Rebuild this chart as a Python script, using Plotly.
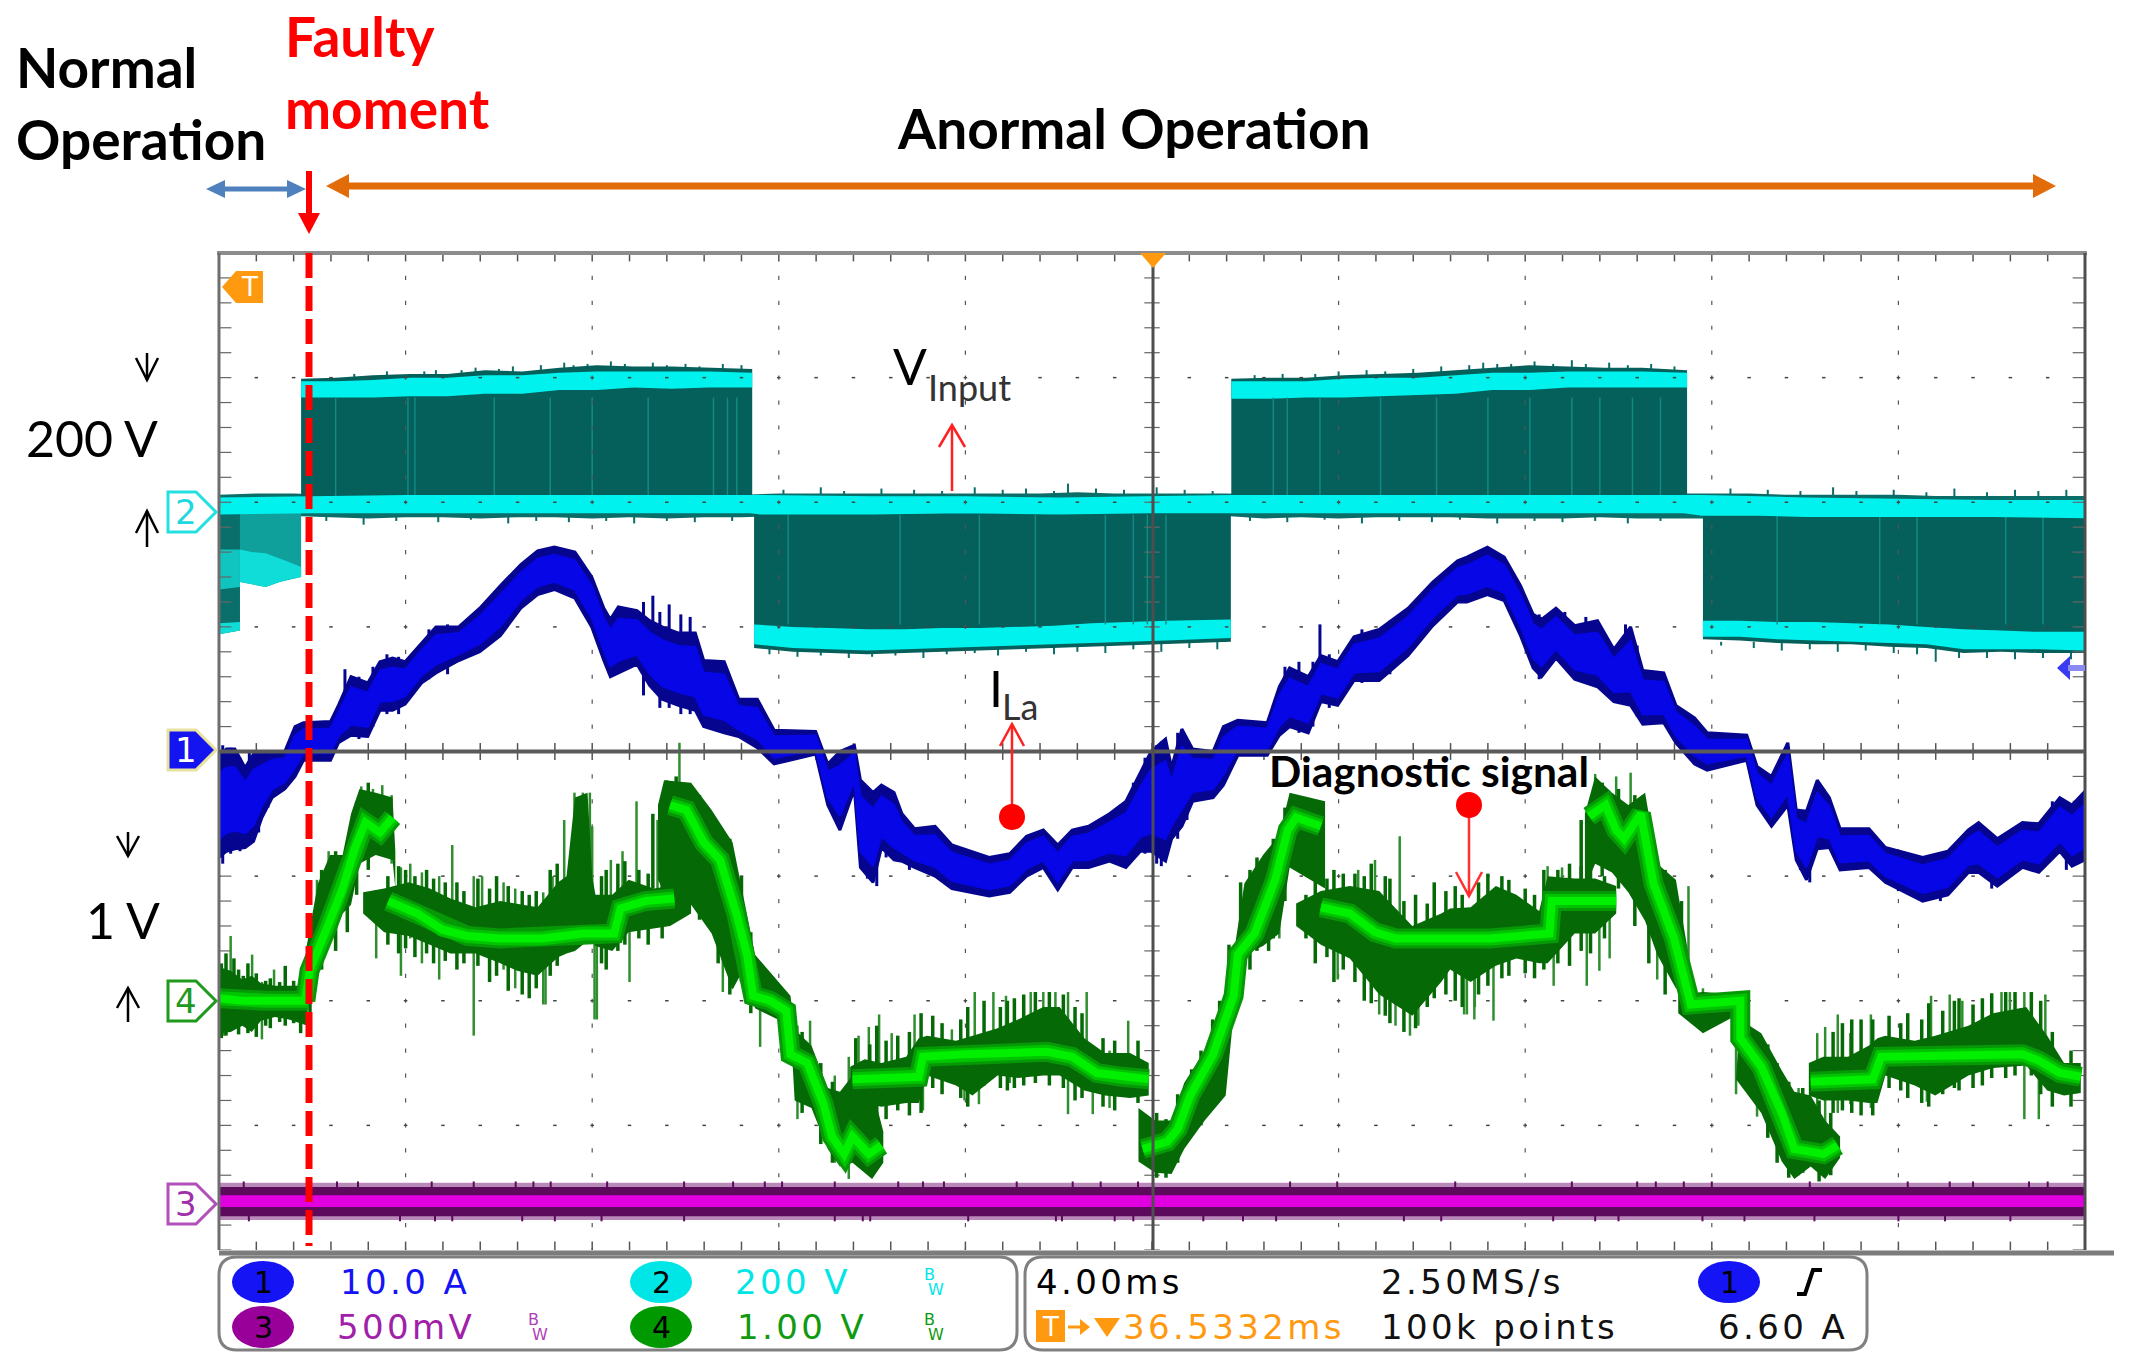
import plotly.graph_objects as go

W, H = 2138, 1371
FL, FR, FT, FB = 219, 2085, 253, 1250

# ---------- channel 1 (inductor current), time in ms, value in divisions ----------
I_t = [0.00,0.16,0.34,0.56,0.74,0.92,1.14,1.41,1.63,1.81,2.39,2.56,2.83,3.19,3.45,3.72,3.99,4.34,4.65,5.14,5.59,6.03,6.47,6.83,7.19,7.63,7.99,8.25,8.39,8.56,8.96,9.23,9.50,9.85,10.21,10.39,10.83,11.14,11.54,11.90,12.79,13.05,13.31,13.62,13.75,14.02,14.20,14.47,14.64,14.91,15.35,15.71,16.51,16.95,17.31,17.67,17.98,18.29,18.64,19.09,19.44,19.75,19.98,20.29,20.42,20.64,20.87,21.31,21.53,21.84,22.47,22.73,22.95,23.35,23.62,23.98,24.33,24.87,25.49,26.02,26.55,26.75,27.19,27.55,27.90,28.17,28.35,28.66,29.06,29.55,29.90,30.26,30.52,30.97,31.23,31.63,31.90,32.75,32.97,33.28,33.63,33.81,34.03,34.26,34.52,34.75,35.37,35.72,36.52,37.06,37.50,37.72,38.12,38.66,39.01,39.46,39.72,40.00]
I_hi = [-0.03,0.02,0.02,-0.13,-0.02,-0.02,0.00,0.00,0.20,0.23,0.24,0.37,0.60,0.55,0.72,0.75,0.72,0.87,1.00,1.00,1.15,1.33,1.50,1.61,1.64,1.60,1.40,1.15,1.06,1.16,1.13,1.05,1.00,0.95,0.95,0.73,0.72,0.42,0.42,0.17,0.16,-0.10,0.00,0.05,-0.23,-0.33,-0.27,-0.33,-0.50,-0.62,-0.60,-0.75,-0.85,-0.82,-0.68,-0.63,-0.75,-0.63,-0.60,-0.50,-0.40,-0.17,0.00,0.10,-0.13,0.18,0.02,0.00,0.20,0.25,0.23,0.52,0.67,0.60,0.77,0.72,0.92,0.98,1.15,1.36,1.53,1.56,1.64,1.56,1.33,1.10,1.06,1.15,1.01,1.05,0.82,1.00,0.65,0.63,0.37,0.27,0.15,0.13,-0.12,-0.20,0.07,-0.47,-0.48,-0.23,-0.37,-0.62,-0.62,-0.77,-0.85,-0.80,-0.63,-0.57,-0.70,-0.57,-0.58,-0.37,-0.43,-0.32]
I_lo = [-0.85,-0.80,-0.78,-0.77,-0.72,-0.53,-0.37,-0.30,-0.20,-0.07,-0.07,0.07,0.13,0.12,0.33,0.33,0.38,0.55,0.63,0.73,0.80,0.93,1.15,1.26,1.30,1.23,1.00,0.73,0.60,0.63,0.70,0.53,0.42,0.37,0.33,0.20,0.15,0.12,0.03,-0.10,-0.02,-0.43,-0.63,-0.30,-0.93,-1.05,-0.77,-0.87,-0.88,-0.93,-1.00,-1.10,-1.16,-1.13,-1.00,-0.93,-1.11,-0.93,-0.93,-0.88,-0.93,-0.80,-0.80,-0.88,-0.70,-0.60,-0.40,-0.37,-0.27,-0.03,-0.03,0.13,0.20,0.15,0.40,0.37,0.57,0.57,0.77,1.01,1.20,1.20,1.26,1.21,0.93,0.67,0.60,0.75,0.58,0.52,0.40,0.37,0.22,0.23,0.07,-0.10,-0.15,-0.07,-0.43,-0.60,-0.43,-0.87,-1.03,-0.78,-0.77,-0.95,-0.93,-1.05,-1.20,-1.15,-0.97,-0.97,-1.08,-0.93,-0.97,-0.80,-0.92,-0.87]
# channel 1 peak-to-peak excursions poking out of the band
IX_t = [0.08,0.25,0.45,0.65,0.85,1.05,2.7,3.0,3.3,3.6,3.85,4.5,4.9,9.1,9.3,9.45,9.65,9.9,10.1,13.9,14.1,14.3,14.8,19.6,19.85,20.1,20.2,20.55,20.75,22.85,23.15,23.45,23.6,23.8,24.5,25.1,28.3,28.85,29.3,29.75,30.15,30.4,33.9,34.1,34.4,36.0,36.9,38.0,39.3,39.6]
IX_hi = [0.05,0.03,-0.05,0.00,-0.02,0.01,0.66,0.60,0.68,0.78,0.76,0.98,1.02,1.20,1.25,1.12,1.18,1.10,1.08,-0.28,-0.30,-0.30,-0.58,-0.25,-0.05,0.05,0.08,0.15,0.05,0.68,0.72,0.72,1.02,0.78,0.98,1.05,1.10,1.12,1.08,0.85,1.02,0.85,-0.60,-0.55,-0.30,-0.80,-0.83,-0.68,-0.40,-0.42]
IX_lo = [-0.90,-0.82,-0.80,-0.75,-0.65,-0.45,0.10,0.10,0.20,0.30,0.30,0.58,0.62,0.45,0.50,0.35,0.35,0.30,0.30,-1.02,-1.08,-0.85,-0.95,-0.85,-0.82,-0.90,-0.92,-0.70,-0.55,0.20,0.15,0.20,0.38,0.35,0.55,0.62,0.58,0.68,0.55,0.45,0.38,0.28,-0.95,-1.05,-0.78,-1.12,-1.20,-1.10,-0.82,-0.95]

# ---------- channel 4 (diagnostic signal) bright trace, None marks a break ----------
D_t = [0,0.5,1.0,1.9,None,1.85,1.94,2.30,2.65,2.92,3.14,3.45,3.72,None,3.63,4.25,4.79,5.32,6.03,6.92,7.81,8.47,8.61,9.14,9.76,None,9.67,10.02,10.39,10.74,11.09,11.32,11.45,11.81,12.16,12.25,12.61,12.96,13.14,13.40,13.58,13.93,14.20,None,13.58,15.00,15.09,15.98,17.75,18.29,18.82,19.35,19.93,None,19.80,20.33,20.55,20.82,21.31,21.62,21.75,21.84,22.20,22.64,22.91,23.09,23.62,None,23.62,24.24,24.78,25.22,27.25,28.52,28.57,29.95,None,29.37,29.72,29.95,30.12,30.48,30.75,31.19,31.41,31.55,32.61,32.61,33.06,33.50,33.77,34.39,34.70,None,34.12,35.45,35.63,38.66,39.01,39.46,39.91]
D_v = [-1.98,-2.00,-2.00,-2.00,None,-2.00,-1.76,-1.43,-1.10,-0.77,-0.57,-0.65,-0.53,None,-1.20,-1.30,-1.43,-1.48,-1.50,-1.50,-1.46,-1.46,-1.26,-1.20,-1.18,None,-0.43,-0.47,-0.73,-0.87,-1.30,-1.63,-1.96,-2.00,-2.08,-2.43,-2.50,-2.83,-3.09,-3.23,-3.09,-3.23,-3.16,None,-2.63,-2.61,-2.45,-2.43,-2.41,-2.45,-2.58,-2.61,-2.63,None,-3.19,-3.13,-3.03,-2.76,-2.43,-2.13,-1.96,-1.63,-1.46,-1.03,-0.63,-0.53,-0.60,None,-1.25,-1.30,-1.45,-1.50,-1.50,-1.46,-1.20,-1.20,None,-0.52,-0.43,-0.63,-0.70,-0.50,-1.06,-1.50,-1.80,-2.03,-2.00,-2.30,-2.53,-2.90,-3.19,-3.23,-3.16,None,-2.65,-2.63,-2.45,-2.43,-2.48,-2.58,-2.61]

# channel 4 dense envelopes, one per stretch of the waveform
E1_t=[0,0.25,0.5,0.7,0.9,1.2,1.5,1.9]
E1_hi=[-1.73,-1.76,-1.83,-1.80,-1.86,-1.88,-1.88,-1.88]
E1_lo=[-2.26,-2.25,-2.20,-2.25,-2.16,-2.13,-2.15,-2.20]
E2_t=[1.87,2.12,2.38,2.65,2.83,3.01,3.36,3.72,3.78]
E2_hi=[-1.58,-1.06,-0.83,-0.83,-0.50,-0.30,-0.33,-0.37,-0.80]
E2_lo=[-2.06,-1.73,-1.53,-1.30,-1.23,-0.90,-0.83,-0.87,-1.10]
E3_t=[3.09,3.54,4.07,4.52,4.96,5.50,6.03,6.39,6.83,7.27,7.45,7.63,7.90,8.00,8.07,8.43,8.78,9.32,9.67,10.12]
E3_hi=[-1.13,-1.10,-1.05,-1.10,-1.18,-1.25,-1.20,-1.22,-1.25,-1.05,-1.00,-0.37,-0.33,-1.00,-1.15,-1.15,-1.03,-1.10,-1.08,-1.16]
E3_lo=[-1.30,-1.45,-1.48,-1.55,-1.62,-1.62,-1.70,-1.76,-1.80,-1.65,-1.62,-1.60,-1.52,-1.52,-1.56,-1.60,-1.45,-1.42,-1.40,-1.30]
E4_t=[9.41,9.54,10.12,10.56,11.01,11.27,11.49,12.25,12.34,12.70,13.05,13.31,13.58,14.00,14.24]
E4_hi=[-0.43,-0.23,-0.25,-0.47,-0.73,-1.23,-1.63,-1.96,-2.23,-2.36,-2.70,-2.73,-2.60,-2.70,-3.05]
E4_lo=[-1.03,-1.13,-1.23,-1.46,-1.91,-1.73,-2.06,-2.20,-2.80,-2.86,-3.19,-3.33,-3.30,-3.43,-3.30]
E5_t=[13.53,13.84,14.20,14.73,15.00,15.18,15.80,16.15,16.69,17.13,17.67,18.02,18.55,18.99,19.53,19.93]
E5_hi=[-2.53,-2.47,-2.50,-2.45,-2.30,-2.28,-2.32,-2.28,-2.22,-2.15,-2.05,-2.05,-2.30,-2.42,-2.42,-2.50]
E5_lo=[-2.76,-2.82,-2.85,-2.82,-2.82,-2.60,-2.68,-2.76,-2.60,-2.62,-2.60,-2.60,-2.72,-2.76,-2.78,-2.76]
E6_t=[19.71,20.07,20.42,20.69,21.13,21.58,21.75,21.98,22.38,22.73,22.95,23.71]
E6_hi=[-2.86,-2.96,-2.96,-2.66,-2.40,-1.96,-1.63,-1.06,-0.83,-0.67,-0.33,-0.40]
E6_lo=[-3.29,-3.38,-3.39,-3.19,-2.96,-2.76,-2.10,-1.63,-1.56,-1.46,-0.93,-1.10]
E7_t=[23.09,23.62,24.24,24.87,25.58,26.20,26.39,26.83,27.37,27.81,28.30,28.48,29.06,29.50,29.95]
E7_hi=[-1.22,-1.12,-1.08,-1.12,-1.40,-1.30,-1.26,-1.25,-1.08,-1.15,-1.28,-1.00,-1.02,-1.02,-1.08]
E7_lo=[-1.40,-1.55,-1.66,-1.95,-2.12,-1.85,-1.75,-1.85,-1.72,-1.66,-1.70,-1.70,-1.46,-1.46,-1.30]
E8_t=[29.28,29.50,29.86,30.21,30.57,30.83,31.23,31.50]
E8_hi=[-0.50,-0.20,-0.33,-0.43,-0.33,-0.90,-1.03,-1.63]
E8_lo=[-1.10,-0.90,-0.97,-1.13,-1.36,-1.63,-1.90,-1.96]
E9_t=[31.28,31.81,32.61,32.52,33.06,33.50,33.77,34.12,34.43,34.75]
E9_hi=[-1.95,-1.93,-1.95,-2.13,-2.26,-2.56,-2.73,-2.76,-2.96,-3.09]
E9_lo=[-2.10,-2.26,-2.10,-2.63,-2.90,-3.29,-3.43,-3.33,-3.43,-3.26]
E10_t=[34.08,34.39,34.92,35.37,35.55,35.72,36.35,36.79,37.50,38.03,38.74,39.19,39.55,39.91]
E10_hi=[-2.50,-2.45,-2.45,-2.36,-2.30,-2.28,-2.32,-2.28,-2.20,-2.10,-2.05,-2.28,-2.50,-2.50]
E10_lo=[-2.76,-2.80,-2.80,-2.82,-2.82,-2.60,-2.68,-2.76,-2.60,-2.54,-2.52,-2.72,-2.76,-2.74]

# channel 4 isolated glitches: time, top, bottom
S_t=[0.25,0.71,1.18,0.92,0.10,2.35,2.10,3.05,3.30,3.50,3.70,3.37,3.90,4.10,4.35,4.72,5.00,5.46,5.64,6.10,6.35,6.95,7.00,7.40,7.62,7.80,7.95,8.00,7.15,8.05,8.10,8.40,8.65,8.95,9.40,8.80,9.87,9.60,10.50,10.80,11.00,11.60,12.40,12.67,13.20,13.50,13.71,13.93,14.15,14.42,13.75,14.91,15.09,15.71,16.20,16.60,16.87,15.98,16.29,16.95,17.40,17.67,17.93,18.20,18.60,18.73,19.49,19.09,22.73,23.98,24.87,25.22,25.53,25.71,26.69,26.91,25.31,24.78,24.42,26.75,26.92,27.32,28.61,29.32,29.59,29.81,28.48,28.79,29.50,29.95,30.26,30.83,31.50,31.81,32.52,32.97,33.86,34.26,34.43,34.70,34.97,35.41,36.70,37.10,37.37,38.21,38.39,38.70,39.15,39.01,36.61]
S_hi=[-1.48,-1.63,-1.75,-1.85,-1.85,-0.80,-1.03,-0.28,-0.30,-0.27,-0.35,-1.30,-0.93,-0.90,-0.97,-1.00,-0.75,-1.00,-1.00,-1.05,-1.10,-1.13,-1.20,-0.55,-0.33,-0.33,-0.33,-0.60,-1.00,-1.30,-1.30,-0.87,-0.80,-0.40,-0.55,-1.40,0.07,-0.23,-0.47,-0.73,-0.80,-2.00,-2.20,-2.16,-2.60,-2.45,-2.28,-2.21,-2.11,-2.26,-2.60,-2.11,-2.60,-2.23,-1.93,-1.93,-1.96,-2.40,-2.40,-2.40,-1.93,-1.93,-1.93,-1.93,-1.93,-2.40,-2.16,-2.40,-0.90,-1.30,-1.40,-1.40,-1.40,-1.40,-1.40,-1.40,-0.68,-0.87,-0.95,-1.40,-1.40,-1.40,-1.40,-1.10,-1.10,-1.10,-0.92,-0.93,-0.18,-0.20,-0.17,-1.00,-1.08,-1.90,-2.20,-2.30,-2.70,-2.26,-2.21,-2.11,-2.26,-2.11,-1.96,-1.95,-2.00,-1.93,-1.93,-1.93,-1.95,-2.30,-2.40]
S_lo=[-2.00,-2.00,-2.00,-2.31,-2.28,-1.30,-1.50,-0.60,-0.60,-0.60,-0.90,-1.66,-1.80,-1.50,-1.70,-1.83,-1.30,-2.28,-1.60,-1.75,-1.90,-2.03,-2.03,-1.50,-1.50,-1.50,-1.50,-1.50,-1.50,-2.15,-2.15,-1.40,-1.40,-1.40,-1.30,-1.85,-0.40,-1.20,-1.40,-1.93,-1.90,-2.37,-2.95,-2.60,-3.30,-3.43,-2.60,-2.60,-2.60,-2.60,-2.90,-2.60,-2.88,-2.60,-2.40,-2.40,-2.40,-2.80,-2.83,-2.66,-2.40,-2.40,-2.40,-2.91,-2.40,-2.91,-2.60,-2.86,-1.50,-1.83,-2.11,-2.20,-2.28,-2.20,-2.11,-2.15,-1.50,-1.50,-1.50,-2.11,-2.05,-2.16,-1.88,-1.88,-1.76,-1.66,-1.40,-1.50,-0.70,-0.90,-0.90,-1.83,-1.90,-2.00,-2.75,-2.93,-3.40,-3.00,-3.00,-2.90,-2.83,-2.86,-2.50,-2.50,-2.55,-2.50,-2.50,-2.95,-2.50,-2.95,-2.81]

# channel 4 dense ripple that gives the envelope its comb edge
R_t=[0.05,0.15,0.32,0.42,0.52,0.62,0.8,1.0,1.1,1.3,1.42,1.6,1.75,
     3.62,3.85,4.0,4.2,4.45,4.6,4.85,5.1,5.25,5.55,5.8,5.95,6.2,6.5,6.65,6.8,7.1,7.25,8.2,8.3,8.55,8.7,9.0,9.2,9.5,
     13.65,13.95,14.1,14.3,14.55,14.8,15.05,15.3,15.5,15.9,16.05,16.4,16.75,16.9,17.05,17.25,17.5,17.8,18.1,18.35,18.5,18.95,19.2,19.7,
     20.1,20.3,20.55,20.85,21.05,21.3,21.45,21.65,21.9,22.1,22.25,22.5,22.6,22.85,
     23.3,23.5,23.75,23.9,24.1,24.35,24.55,24.7,25.0,25.1,25.4,25.65,25.9,26.05,26.3,26.5,26.65,27.0,27.2,27.5,27.65,28.0,28.2,28.4,28.7,28.95,29.2,29.4,29.7,
     34.6,34.8,35.0,35.2,35.45,35.8,36.05,36.2,36.5,36.65,36.95,37.2,37.3,37.6,37.8,38.0,38.3,38.5,38.85,39.05,39.3,39.7,
     1.95,2.2,2.5,2.75,2.95,3.2,9.3,9.8,10.3,10.7,10.95,11.2,11.4,29.2,29.65,30.0,30.35,30.65,31.0,31.35,12.5,12.9,13.15,33.2,33.4,33.65,33.95,34.3,34.55]
R_hi=[-1.7,-1.62,-1.66,-1.75,-1.8,-1.7,-1.78,-1.84,-1.82,-1.85,-1.72,-1.84,-1.82,
      -1.0,-0.92,-0.95,-1.0,-0.95,-1.02,-1.05,-1.05,-1.12,-1.02,-1.1,-1.0,-1.08,-1.12,-1.15,-1.12,-0.95,-0.9,-1.0,-0.95,-0.9,-0.88,-0.95,-0.98,-0.92,
      -2.3,-2.35,-2.2,-2.32,-2.28,-2.25,-2.1,-2.12,-2.18,-2.15,-2.05,-2.0,-2.05,-2.0,-1.98,-1.95,-1.93,-1.93,-1.95,-2.05,-2.1,-2.3,-2.32,-2.32,
      -2.9,-2.95,-2.75,-2.55,-2.4,-2.15,-2.0,-1.55,-1.05,-0.95,-0.85,-0.8,-0.7,-0.45,
      -1.15,-1.0,-1.02,-0.95,-0.98,-0.98,-1.0,-0.9,-1.0,-1.02,-1.2,-1.15,-1.22,-1.05,-1.12,-1.08,-1.15,-1.05,-0.98,-1.0,-1.03,-1.1,-1.15,-0.95,-0.95,-0.9,-0.92,-0.95,-1.0,
      -2.25,-2.18,-2.15,-2.15,-2.15,-2.12,-2.18,-2.1,-2.15,-2.02,-2.08,-2.0,-1.98,-2.03,-1.98,-1.94,-1.93,-1.93,-1.93,-2.0,-2.25,-2.4,
      -1.5,-0.95,-0.8,-0.75,-0.4,-0.25,-0.5,-0.2,-0.35,-0.6,-0.7,-1.0,-1.45,-0.55,-0.25,-0.3,-0.35,-0.5,-0.95,-1.2,-2.25,-2.5,-2.65,-2.35,-2.5,-2.65,-2.7,-2.8,-2.9]
R_lo=[-2.3,-2.28,-2.22,-2.27,-2.2,-2.26,-2.29,-2.2,-2.22,-2.17,-2.2,-2.18,-2.26,
      -1.55,-1.62,-1.58,-1.65,-1.62,-1.7,-1.68,-1.75,-1.7,-1.72,-1.85,-1.8,-1.92,-1.95,-1.98,-1.9,-1.8,-1.72,-1.7,-1.75,-1.6,-1.55,-1.5,-1.55,-1.5,
      -2.85,-2.9,-2.92,-2.95,-2.88,-2.92,-2.9,-2.7,-2.75,-2.78,-2.85,-2.68,-2.7,-2.72,-2.7,-2.68,-2.66,-2.68,-2.7,-2.8,-2.78,-2.85,-2.88,-2.82,
      -3.42,-3.42,-3.3,-3.05,-3.0,-2.85,-2.8,-2.15,-1.7,-1.75,-1.6,-1.6,-1.5,-1.2,
      -1.5,-1.7,-1.65,-1.85,-1.75,-1.85,-2.0,-2.02,-2.12,-2.18,-2.25,-2.22,-2.05,-1.98,-1.95,-2.0,-2.05,-1.95,-1.88,-1.82,-1.8,-1.78,-1.82,-1.75,-1.7,-1.72,-1.6,-1.62,-1.5,
      -2.9,-2.88,-2.9,-2.92,-2.92,-2.7,-2.72,-2.78,-2.82,-2.85,-2.75,-2.7,-2.72,-2.7,-2.68,-2.62,-2.62,-2.6,-2.6,-2.75,-2.85,-2.85,
      -2.1,-1.75,-1.6,-1.45,-1.15,-0.95,-1.1,-1.2,-1.35,-1.7,-1.95,-1.85,-2.1,-1.2,-1.0,-1.1,-1.4,-1.7,-1.95,-2.0,-2.9,-3.15,-3.3,-3.1,-3.3,-3.42,-3.38,-3.45,-3.4]

# ---------- channel 2 (input voltage) ----------
V_base_t=[0,2,4,6,8,10,11.4,11.6,14,16,18,20,21.7,24,26,28,30,31.4,31.8,33,34,36,38,40]
V_base_hi=[2.03,2.04,2.05,2.05,2.05,2.05,2.05,2.05,2.04,2.04,2.03,2.04,2.05,2.05,2.05,2.05,2.05,2.05,2.05,2.04,2.03,2.02,2.01,2.01]
V_base_lo=[1.91,1.92,1.92,1.92,1.92,1.92,1.92,1.91,1.91,1.92,1.91,1.92,1.92,1.92,1.92,1.92,1.92,1.92,1.90,1.90,1.89,1.89,1.89,1.88]
V_fringe_t=[0,0.8,1.6,2.4,3.2,4.0,4.8,5.6,6.4,7.2,8.0,8.8,9.6,10.4,11.2,12.0,12.8,13.6,14.4,15.2,16.0,16.8,17.6,18.4,19.2,20.0,20.8,21.6,22.4,23.2,24.0,24.8,25.6,26.4,27.2,28.0,28.8,29.6,30.4,31.2,32.0,32.8,33.6,34.4,35.2,36.0,36.8,37.6,38.4,39.2,40.0]
V_fringe_hi=[2.06,2.07,2.07,2.06,2.06,2.06,2.06,2.06,2.06,2.06,2.06,2.06,2.06,2.06,2.06,2.07,2.07,2.07,2.07,2.07,2.07,2.07,2.07,2.08,2.07,2.07,2.07,2.07,2.06,2.06,2.06,2.06,2.06,2.06,2.06,2.06,2.06,2.06,2.06,2.07,2.07,2.07,2.06,2.06,2.06,2.06,2.05,2.05,2.05,2.05,2.05]
V_fringe_lo=[1.89,1.89,1.89,1.88,1.87,1.88,1.88,1.87,1.88,1.88,1.87,1.88,1.87,1.88,1.88,1.89,1.88,1.89,1.88,1.89,1.88,1.89,1.89,1.88,1.89,1.88,1.89,1.89,1.87,1.88,1.87,1.88,1.88,1.88,1.87,1.87,1.87,1.88,1.87,1.87,1.87,1.87,1.86,1.86,1.86,1.85,1.85,1.85,1.86,1.85,1.85]
# switching ripple on the block edges: time, top, bottom
VT_t=[2.9,3.6,4.4,4.65,5.2,5.5,6.0,6.3,6.9,7.4,7.6,7.9,8.4,8.7,9.3,9.6,10.0,10.3,10.8,11.2,
      22.2,22.8,23.5,24.0,24.6,25.0,25.6,26.2,26.8,27.1,27.4,27.7,28.2,28.6,29.0,29.3,29.8,30.2,30.7,31.2,
      12.1,12.9,13.4,14.2,14.9,15.5,16.2,16.8,17.3,17.9,18.2,18.8,19.4,20.1,20.7,21.3,32.4,33.2,33.9,34.6,35.1,35.9,36.6,37.2,37.9,38.5,39.0,39.6,
      2.3,3.1,3.8,4.7,5.4,6.2,6.8,7.5,8.3,8.9,9.6,10.2,11.0,22.1,22.9,23.7,24.5,25.3,26.0,26.6,27.4,28.2,28.8,29.5,30.2,30.9]
VT_hi=[3.03,3.05,3.05,3.06,3.06,3.08,3.07,3.09,3.10,3.12,3.10,3.11,3.13,3.11,3.12,3.10,3.11,3.09,3.11,3.10,
       3.02,3.03,3.03,3.05,3.06,3.05,3.07,3.09,3.10,3.12,3.11,3.11,3.13,3.11,3.14,3.11,3.12,3.10,3.11,3.09,
       2.10,2.12,2.09,2.11,2.10,2.09,2.12,2.10,2.11,2.09,2.15,2.11,2.10,2.12,2.10,2.09,2.11,2.10,2.09,2.12,2.09,2.10,2.08,2.11,2.08,2.10,2.09,2.10,
       1.9,1.9,1.9,1.9,1.9,1.9,1.9,1.9,1.9,1.9,1.9,1.9,1.9,1.9,1.9,1.9,1.9,1.9,1.9,1.9,1.9,1.9,1.9,1.9,1.9,1.9]
VT_lo=[2.95,2.95,2.95,2.95,2.95,3.0,3.0,3.0,3.0,3.0,3.0,3.0,3.0,3.0,3.0,3.0,3.0,3.0,3.0,3.0,
       2.95,2.95,2.95,2.95,2.95,3.0,3.0,3.0,3.0,3.0,3.0,3.0,3.0,3.0,3.0,3.0,3.0,3.0,3.0,3.0,
       2.0,2.0,2.0,2.0,2.0,2.0,2.0,2.0,2.0,2.0,2.0,2.0,2.0,2.0,2.0,2.0,2.0,2.0,2.0,2.0,2.0,2.0,2.0,2.0,2.0,2.0,2.0,2.0,
       1.85,1.82,1.85,1.84,1.86,1.83,1.85,1.84,1.85,1.83,1.85,1.84,1.85,1.85,1.84,1.86,1.83,1.85,1.84,1.86,1.83,1.85,1.84,1.85,1.83,1.85]
VB_t=[11.8,12.4,12.9,13.5,14.0,14.5,15.1,15.6,16.2,16.7,17.3,17.9,18.4,19.0,19.6,20.2,20.8,21.4,32.2,32.9,33.5,34.1,34.7,35.3,35.9,36.4,36.8,37.3,37.9,38.5,39.1,39.7]
VB_lo=[0.78,0.76,0.77,0.75,0.76,0.77,0.75,0.78,0.79,0.77,0.80,0.78,0.80,0.79,0.82,0.80,0.83,0.82,0.85,0.83,0.81,0.82,0.80,0.81,0.79,0.78,0.72,0.75,0.75,0.74,0.75,0.74]

V_up1_t=[1.76,2.5,3.3,4.1,4.9,5.7,6.5,7.3,8.1,8.9,9.7,10.5,11.43]
V_up1_edge=[2.99,3.00,3.02,3.03,3.03,3.06,3.05,3.08,3.10,3.09,3.09,3.08,3.07]
V_up1_hi=[2.97,2.97,2.98,3.00,3.00,3.02,3.02,3.04,3.05,3.05,3.05,3.05,3.04]
V_up1_lo=[2.84,2.84,2.84,2.85,2.85,2.87,2.87,2.90,2.90,2.92,2.91,2.92,2.92]
V_up2_t=[21.70,22.5,23.3,24.1,24.9,25.7,26.5,27.3,28.1,28.9,29.7,30.5,31.47]
V_up2_edge=[2.99,3.00,3.00,3.02,3.03,3.04,3.06,3.08,3.10,3.09,3.08,3.08,3.06]
V_up2_hi=[2.97,2.97,2.97,2.99,3.00,3.00,3.02,3.04,3.04,3.05,3.05,3.05,3.04]
V_up2_lo=[2.83,2.83,2.84,2.84,2.85,2.86,2.87,2.90,2.90,2.92,2.92,2.92,2.92]
V_dn1_t=[11.47,12.3,13.1,13.9,14.7,15.5,16.3,17.1,17.9,18.7,19.5,20.3,21.69]
V_dn1_edge=[0.83,0.80,0.79,0.78,0.79,0.80,0.81,0.82,0.83,0.84,0.85,0.86,0.88]
V_dn1_hi=[1.02,1.00,0.99,0.98,0.98,0.99,0.99,1.00,1.01,1.03,1.04,1.05,1.06]
V_dn1_lo=[0.86,0.83,0.82,0.81,0.82,0.83,0.84,0.85,0.86,0.87,0.88,0.89,0.91]
V_dn2_t=[31.81,32.6,33.4,34.2,35.0,35.8,36.6,37.4,38.2,39.0,40.0]
V_dn2_edge=[0.90,0.89,0.87,0.86,0.86,0.84,0.83,0.79,0.80,0.79,0.79]
V_dn2_hi=[1.05,1.05,1.04,1.04,1.03,1.02,1.00,0.98,0.97,0.96,0.96]
V_dn2_lo=[0.92,0.92,0.90,0.89,0.88,0.87,0.86,0.82,0.82,0.82,0.81]
V_pre_t=[0.45,0.7,1.0,1.3,1.5,1.76]
V_pre_lo=[1.36,1.34,1.32,1.36,1.38,1.40]
V_pre_bright_hi=[1.62,1.60,1.59,1.55,1.52,1.48]
V_pre_start_t=[0.0,0.45]
V_pre_start_lo=[0.94,0.97]
V_streak_t=[2.5,4.05,4.2,5.9,7.1,8.0,9.2,10.6,10.9,11.1,12.2,14.6,16.3,17.5,19.0,19.6,19.9,20.3,22.6,22.9,23.6,24.9,26.1,27.2,28.1,29.0,29.6,30.3,30.9,33.4,35.6,36.4,38.3,39.1]

# ---------- channel 3 (flat trace) ----------
P_t=[0,40]
P_pale_hi=[-3.46,-3.46]; P_pale_lo=[-3.76,-3.76]
P_hi=[-3.495,-3.495]; P_lo=[-3.73,-3.73]
P_core_hi=[-3.56,-3.56]; P_core_lo=[-3.655,-3.655]
P_up_t=[0.53,2.53,2.98,4.56,5.46,6.36,6.74,7.11,8.32,9.97,11.02,11.7,12.07,13.2,14.56,15.09,15.54,17.1,18.3,18.9,19.7,22.96,23.97,26.5,29.0,30.4,30.8,31.4,32.0,34.1,36.2,37.1,37.6,38.8,39.2]
P_dn_t=[0.64,3.88,4.63,5.0,6.5,7.2,8.2,9.97,13.2,13.8,13.96,16.06,17.94,18.07,19.2,19.6,21.1,21.95,22.66,25.4,26.2,28.6,29.5,30.0,31.8,32.7,34.2,36.0,37.0,38.4]
P_spike_hi=-3.45; P_spike_lo=-3.77

# ---------- helpers ----------
def X(p): return p / W
def Y(p): return 1 - p / H

def band(t, hi, lo, color, edge=0):
    return go.Scatter(x=list(t) + list(t)[::-1], y=list(hi) + list(lo)[::-1], mode="lines",
                      fill="toself", fillcolor=color, line=dict(width=edge, color=color), hoverinfo="skip", showlegend=False)

def vlines(ts, his, los, color, width):
    xs, ys = [], []
    for t, h, l in zip(ts, his, los):
        xs += [t, t, None]; ys += [h, l, None]
    return go.Scatter(x=xs, y=ys, mode="lines", line=dict(color=color, width=width), hoverinfo="skip", showlegend=False)

def path(points, close=True):
    parts = [("M" if i == 0 else "L") + f"{X(x):.5f},{Y(y):.5f}" for i, (x, y) in enumerate(points)]
    return " ".join(parts) + (" Z" if close else "")

shapes, ann = [], []
def line(pts, color, width, dash=None):
    shapes.append(dict(type="path", xref="paper", yref="paper", path=path(pts, False),
                       line=dict(color=color, width=width, dash=dash) if dash else dict(color=color, width=width)))
def poly(pts, fill, edge=None, width=0):
    shapes.append(dict(type="path", xref="paper", yref="paper", path=path(pts, True), fillcolor=fill,
                       line=dict(color=edge or fill, width=width)))
def oval(cx, cy, rx, ry, fill):
    shapes.append(dict(type="circle", xref="paper", yref="paper", x0=X(cx-rx), x1=X(cx+rx), y0=Y(cy+ry), y1=Y(cy-ry),
                       fillcolor=fill, line=dict(width=0)))
def text(s, x, y, size, color="#000000", family="Lato", anchor="left"):
    ann.append(dict(text=s, xref="paper", yref="paper", x=X(x), y=Y(y), xanchor=anchor, yanchor="middle",
                    showarrow=False, font=dict(size=size, color=color, family=family)))
def arrow(x, y0, y1, color, width=2, hw=9, hl=14):
    s = 1 if y1 < y0 else -1
    line([(x, y0), (x, y1)], color, width)
    line([(x-hw, y1+s*hl), (x, y1), (x+hw, y1+s*hl)], color, width)
def spaced(s):
    return "\u200a".join(s)

fig = go.Figure()

# channel 2
TEAL, CYAN, EDGE = "#055f5b", "#00f2ee", "#0b6d68"
fig.add_trace(band(V_fringe_t, V_fringe_hi, V_fringe_lo, EDGE))
fig.add_trace(vlines(VT_t, VT_hi, VT_lo, EDGE, 2))
fig.add_trace(vlines(VB_t, [0.88]*len(VB_t), VB_lo, EDGE, 2))
for t, edge, hi, lo in [(V_up1_t, V_up1_edge, V_up1_hi, V_up1_lo), (V_up2_t, V_up2_edge, V_up2_hi, V_up2_lo)]:
    fig.add_trace(band(t, edge, [2.0]*len(t), TEAL))
    fig.add_trace(band(t, hi, lo, CYAN))
for t, edge, hi, lo in [(V_dn1_t, V_dn1_edge, V_dn1_hi, V_dn1_lo), (V_dn2_t, V_dn2_edge, V_dn2_hi, V_dn2_lo)]:
    fig.add_trace(band(t, [1.95]*len(t), edge, TEAL))
    fig.add_trace(band(t, hi, lo, CYAN))
fig.add_trace(vlines(V_streak_t,
                     [2.84 if (1.7 < s < 11.5 or 21.6 < s < 31.5) else 1.9 for s in V_streak_t],
                     [2.05 if (1.7 < s < 11.5 or 21.6 < s < 31.5) else 1.02 for s in V_streak_t],
                     "#118a84", 1.5))
fig.add_trace(band(V_pre_t, [1.95]*len(V_pre_t), V_pre_lo, "#10a09c"))
fig.add_trace(band(V_pre_t, V_pre_bright_hi, V_pre_lo, "#10dcd8"))
fig.add_trace(band(V_pre_start_t, [1.95, 1.95], V_pre_start_lo, "#0a6f6b"))
fig.add_trace(band(V_pre_start_t, [1.62, 1.62], [1.30, 1.32], "#10c4c0"))
fig.add_trace(band(V_pre_start_t, [1.03, 1.04], V_pre_start_lo, "#10dcd8"))
fig.add_trace(band(V_base_t, V_base_hi, V_base_lo, CYAN, 2))

# graticule
c_x, c_y = [], []
for k in range(1, 10):
    if k == 5:
        continue
    for j in range(-20, 21):
        c_x.append(4.0 * k); c_y.append(j * 0.2)
fig.add_trace(go.Scatter(x=c_x, y=c_y, mode="markers", hoverinfo="skip", showlegend=False,
                         marker=dict(symbol="line-ns", size=3, line=dict(color="#555555", width=1.2))))
r_x, r_y = [], []
for v in [-3, -2, -1, 1, 2, 3]:
    for j in range(0, 51):
        r_x.append(j * 0.8); r_y.append(v)
fig.add_trace(go.Scatter(x=r_x, y=r_y, mode="markers", hoverinfo="skip", showlegend=False,
                         marker=dict(symbol="line-ew", size=2.5, line=dict(color="#444444", width=1.5))))
m_x = [j * 0.8 for j in range(0, 51)]
fig.add_trace(go.Scatter(x=m_x, y=[0]*51, mode="markers", hoverinfo="skip", showlegend=False,
                         marker=dict(symbol="line-ns", size=12, line=dict(color="#555555", width=1.5))))
fig.add_trace(go.Scatter(x=m_x + m_x, y=[4]*51 + [-4]*51, mode="markers", hoverinfo="skip", showlegend=False,
                         marker=dict(symbol="line-ns", size=12, line=dict(color="#555555", width=1.5))))
e_y = [j * 0.2 for j in range(-20, 21)]
fig.add_trace(go.Scatter(x=[20]*41 + [0.1]*41 + [39.9]*41, y=e_y*3, mode="markers", hoverinfo="skip", showlegend=False,
                         marker=dict(symbol="line-ew", size=11, line=dict(color="#666666", width=1.2))))

# channel 1
fig.add_trace(vlines(IX_t, IX_hi, IX_lo, "#05058f", 3))
fig.add_trace(band(I_t, I_hi, I_lo, "#05058f", 3))
I_hi2 = [h - 0.18 * (h - l) for h, l in zip(I_hi, I_lo)]
I_lo2 = [l + 0.18 * (h - l) for h, l in zip(I_hi, I_lo)]
fig.add_trace(band(I_t, I_hi2, I_lo2, "#0606e6", 2))

# channel 4
fig.add_trace(vlines(S_t, S_hi, S_lo, "#2f8f2f", 2.5))
fig.add_trace(vlines(R_t, R_hi, R_lo, "#056a05", 3.5))
for t, hi, lo in [(E1_t,E1_hi,E1_lo),(E2_t,E2_hi,E2_lo),(E3_t,E3_hi,E3_lo),(E4_t,E4_hi,E4_lo),(E5_t,E5_hi,E5_lo),
                  (E6_t,E6_hi,E6_lo),(E7_t,E7_hi,E7_lo),(E8_t,E8_hi,E8_lo),(E9_t,E9_hi,E9_lo),(E10_t,E10_hi,E10_lo)]:
    fig.add_trace(band(t, hi, lo, "#056a05"))
for col, wid in [("#069806", 20), ("#00c400", 14), ("#00f000", 8)]:
    fig.add_trace(go.Scatter(x=D_t, y=D_v, mode="lines", line=dict(color=col, width=wid), connectgaps=False,
                             hoverinfo="skip", showlegend=False))

# channel 3
fig.add_trace(band(P_t, P_pale_hi, P_pale_lo, "#b98ab9"))
fig.add_trace(band(P_t, P_hi, P_lo, "#5c0a5c"))
fig.add_trace(band(P_t, P_core_hi, P_core_lo, "#e000e0"))
fig.add_trace(vlines(P_up_t, [P_spike_hi]*len(P_up_t), [-3.5]*len(P_up_t), "#5c0a5c", 2))
fig.add_trace(vlines(P_dn_t, [-3.72]*len(P_dn_t), [P_spike_lo]*len(P_dn_t), "#5c0a5c", 2))

# frame and centre lines
line([(FL-2, FT), (FR+2, FT)], "#8c8c8c", 4)
line([(FL, FT), (FL, FB)], "#6e6e6e", 3)
line([(FR, FT), (FR, FB)], "#4e4e4e", 3)
line([(FL, FB+3), (2114, FB+3)], "#7c7c7c", 5)
line([(FL, 751.5), (FR, 751.5)], "#5a5a5a", 4)
line([(1153, FT), (1153, FB)], "#4e4e4e", 3)

# fault marker
line([(309, FT), (309, FB-4)], "#ff0000", 7, dash="25px,8px")
line([(309, 171), (309, 216)], "#ff0000", 6)
poly([(298, 213), (320, 213), (309, 234)], "#ff0000")

# region arrows
line([(222, 189), (292, 189)], "#4f81bd", 5)
poly([(206, 189), (225, 180), (225, 198)], "#4f81bd")
poly([(306, 189), (287, 180), (287, 198)], "#4f81bd")
line([(340, 186), (2044, 186)], "#e36c0a", 7)
poly([(326, 186), (349, 174), (349, 198)], "#e36c0a")
poly([(2056, 186), (2033, 174), (2033, 198)], "#e36c0a")

# channel markers
def marker(y, fill, edge, width=3):
    poly([(168, y-20), (196, y-20), (216, y), (196, y+20), (168, y+20)], fill, edge, width)
marker(512, "#ffffff", "#25e0e0")
marker(750, "#1414f0", "#e8e2a0")
marker(1001, "#ffffff", "#1f9a1f")
marker(1204, "#ffffff", "#b050b8")
text("2", 186, 512, 34, "#20d8e0", "DejaVu Sans", "center")
text("1", 186, 750, 34, "#ffffff", "DejaVu Sans", "center")
text("4", 186, 1001, 34, "#1f9a1f", "DejaVu Sans", "center")
text("3", 186, 1204, 34, "#a030a8", "DejaVu Sans", "center")
poly([(222, 287), (236, 271), (263, 271), (263, 303), (236, 303)], "#ff9a10")
text("T", 249, 287, 26, "#ffffff", "DejaVu Sans", "center")
poly([(1140, 253), (1166, 253), (1153, 268)], "#ff9a10")
poly([(2057, 668), (2070, 656), (2070, 680)], "#3a3af0")
line([(2068, 668), (2085, 668)], "#8a8af5", 6)

# headings
HEAD = 55
text("<b>Normal</b>", 14, 67, HEAD)
text("<b>Operation</b>", 14, 139, HEAD)
text("<b>Faulty</b>", 283, 36, HEAD, "#ff0000")
text("<b>moment</b>", 283, 108, HEAD, "#ff0000")
text("<b>Anormal Operation</b>", 895, 128, HEAD)

# left scale notes
text("200 V", 24, 438, 50)
text("1 V", 84, 920, 50)
arrow(147, 353, 380, "#000000", 2.5, 11, 22)
arrow(147, 547, 511, "#000000", 2.5, 11, 22)
arrow(128, 832, 856, "#000000", 2.5, 11, 20)
arrow(128, 1022, 988, "#000000", 2.5, 11, 20)

# waveform labels
text("V", 891, 366, 50)
text("Input", 926, 387, 36, "#333333")
arrow(952, 491, 425, "#ff2020", 2.5, 13, 22)
text("I", 987, 688, 50)
text("La", 1000, 706, 36, "#333333")
arrow(1012, 817, 724, "#ff2020", 2.5, 12, 22)
oval(1012, 817, 13, 13, "#ff0000")
text("<b>Diagnostic signal</b>", 1267, 770, 42.5)
arrow(1469, 805, 896, "#ff3030", 2.5, 13, 24)
oval(1469, 805, 13, 13, "#ff0000")

# read-out boxes
def rbox(x0, x1, y0=1257, y1=1350, r=18):
    p = (f"M{X(x0+r):.5f},{Y(y0):.5f} L{X(x1-r):.5f},{Y(y0):.5f} Q{X(x1):.5f},{Y(y0):.5f} {X(x1):.5f},{Y(y0+r):.5f} "
         f"L{X(x1):.5f},{Y(y1-r):.5f} Q{X(x1):.5f},{Y(y1):.5f} {X(x1-r):.5f},{Y(y1):.5f} "
         f"L{X(x0+r):.5f},{Y(y1):.5f} Q{X(x0):.5f},{Y(y1):.5f} {X(x0):.5f},{Y(y1-r):.5f} "
         f"L{X(x0):.5f},{Y(y0+r):.5f} Q{X(x0):.5f},{Y(y0):.5f} {X(x0+r):.5f},{Y(y0):.5f} Z")
    shapes.append(dict(type="path", xref="paper", yref="paper", path=p, line=dict(color="#808080", width=3), fillcolor="#ffffff"))
rbox(219, 1017)
rbox(1025, 1867)
MONO = "DejaVu Sans"
R1, R2 = 1282, 1327
oval(263, R1, 31, 21, "#1414f5"); text("1", 263, R1, 30, "#000000", MONO, "center")
oval(263, R2, 31, 21, "#990099"); text("3", 263, R2, 30, "#000000", MONO, "center")
oval(661, R1, 31, 21, "#00e6e6"); text("2", 661, R1, 30, "#000000", MONO, "center")
oval(661, R2, 31, 21, "#009900"); text("4", 661, R2, 30, "#000000", MONO, "center")
oval(1729, R1, 31, 21, "#1414f5"); text("1", 1729, R1, 30, "#000000", MONO, "center")
RS = 34
text(spaced("10.0 A"), 338, R1, RS, "#1414f5", MONO)
text(spaced("500mV"), 335, R2, RS, "#a020a8", MONO)
text(spaced("200 V"), 733, R1, RS, "#00e6e6", MONO)
text(spaced("1.00 V"), 735, R2, RS, "#109a10", MONO)
for bx, by, col in [(933, R1, "#00e6e6"), (537, R2, "#b040b8"), (933, R2, "#109a10")]:
    text("B", bx-4, by-8, 16, col, MONO, "center")
    text("W", bx+3, by+7, 16, col, MONO, "center")
text(spaced("4.00ms"), 1034, R1, RS, "#000000", MONO)
text(spaced("2.50MS/s"), 1379, R1, RS, "#111111", MONO)
text(spaced("100k points"), 1379, R2, RS, "#111111", MONO)
text(spaced("6.60 A"), 1716, R2, RS, "#111111", MONO)
text(spaced("36.5332ms"), 1121, R2, RS, "#ff9a10", MONO)
shapes.append(dict(type="rect", xref="paper", yref="paper", x0=X(1036), x1=X(1065), y0=Y(1342), y1=Y(1310),
                   fillcolor="#ff9a10", line=dict(width=0)))
text("T", 1050.5, R2, 26, "#ffffff", MONO, "center")
line([(1068, R2), (1086, R2)], "#ff9a10", 3)
poly([(1090, R2), (1080, R2-8), (1080, R2+8)], "#ff9a10")
poly([(1094, R2-9), (1120, R2-9), (1107, R2+10)], "#ff9a10")
line([(1797, 1294), (1805, 1294), (1813, 1270), (1822, 1270)], "#000000", 4)

fig.update_layout(
    width=W, height=H, autosize=False, margin=dict(l=0, r=0, t=0, b=0),
    paper_bgcolor="#ffffff", plot_bgcolor="#ffffff", showlegend=False,
    shapes=shapes, annotations=ann,
    xaxis=dict(domain=[FL/W, FR/W], range=[0, 40], visible=False, fixedrange=True),
    yaxis=dict(domain=[1-FB/H, 1-FT/H], range=[-4, 4], visible=False, fixedrange=True),
)
fig.write_html("out.html", post_script="document.body.style.margin='0';document.body.style.overflow='hidden';",
               config=dict(displayModeBar=False))
